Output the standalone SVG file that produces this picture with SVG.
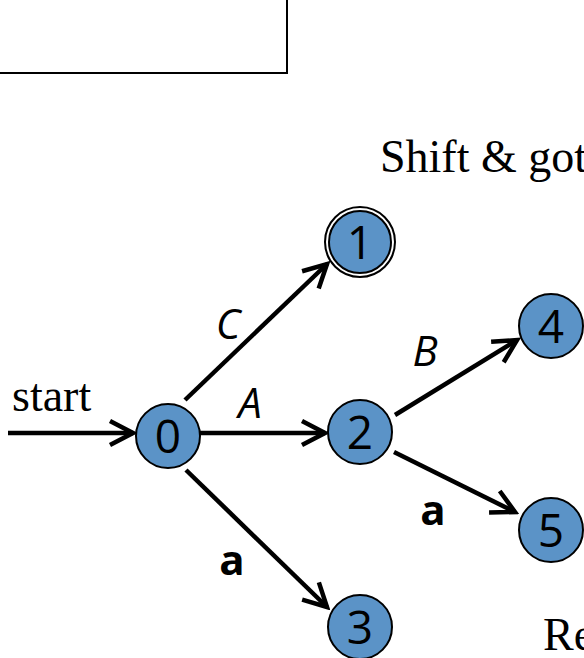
<svg xmlns="http://www.w3.org/2000/svg" width="584" height="658" viewBox="0 0 584 658">
<style>
.edge{stroke:#000;stroke-width:4.5;fill:none;marker-end:url(#ah)}
.node{fill:#5B93C7;stroke:#000;stroke-width:2}
.num{font-family:"Open Sans","Noto Sans",sans-serif;font-size:46px;fill:#000;text-anchor:middle}
.lbl{font-family:"Open Sans","Noto Sans",sans-serif;font-size:42px;fill:#000;text-anchor:middle}
.ser{font-family:"Liberation Serif",serif;font-size:46px;fill:#000}
</style>
<defs>
<marker id="ah" markerUnits="userSpaceOnUse" markerWidth="32" markerHeight="32" viewBox="-28 -16 32 32" refX="0" refY="0" orient="auto">
<path d="M-23,-12 L0,0 L-23,12" fill="none" stroke="#000" stroke-width="4.5" stroke-linejoin="miter"/>
</marker>
</defs>
<rect x="-10" y="-10" width="297" height="83" fill="#fff" stroke="#000" stroke-width="2"/>
<text class="ser" x="380" y="172">Shift &amp; goto</text>
<text class="ser" x="12" y="411">start</text>
<text class="ser" x="543" y="650">Re</text>
<g id="connectors">
<line class="edge" x1="8" y1="433" x2="133" y2="433"/>
<line class="edge" x1="185" y1="400" x2="327" y2="264"/>
<line class="edge" x1="200" y1="433" x2="325" y2="433"/>
<line class="edge" x1="186" y1="470" x2="327" y2="607"/>
<line class="edge" x1="395" y1="415" x2="517" y2="340"/>
<line class="edge" x1="394" y1="452" x2="515" y2="512"/>
<text class="lbl" x="228" y="339" font-style="italic">C</text>
<text class="lbl" x="250" y="418" font-style="italic">A</text>
<text class="lbl" x="425" y="366" font-style="italic">B</text>
<text class="lbl" x="433" y="525" font-weight="bold">a</text>
<text class="lbl" x="232" y="575" font-weight="bold">a</text>
</g>
<g id="n0"><circle class="node" cx="168" cy="436" r="32"/><text class="num" x="168" y="453">0</text></g>
<g id="n1"><circle cx="360" cy="242" r="35" fill="#fff" stroke="#000" stroke-width="2"/><circle class="node" cx="360" cy="242" r="31"/><text class="num" x="360" y="259">1</text></g>
<g id="n2"><circle class="node" cx="360" cy="432" r="32"/><text class="num" x="360" y="449">2</text></g>
<g id="n3"><circle class="node" cx="360" cy="627" r="32"/><text class="num" x="360" y="644">3</text></g>
<g id="n4"><circle class="node" cx="551" cy="326" r="32"/><text class="num" x="551" y="343">4</text></g>
<g id="n5"><circle class="node" cx="551" cy="530" r="32"/><text class="num" x="551" y="547">5</text></g>
</svg>
